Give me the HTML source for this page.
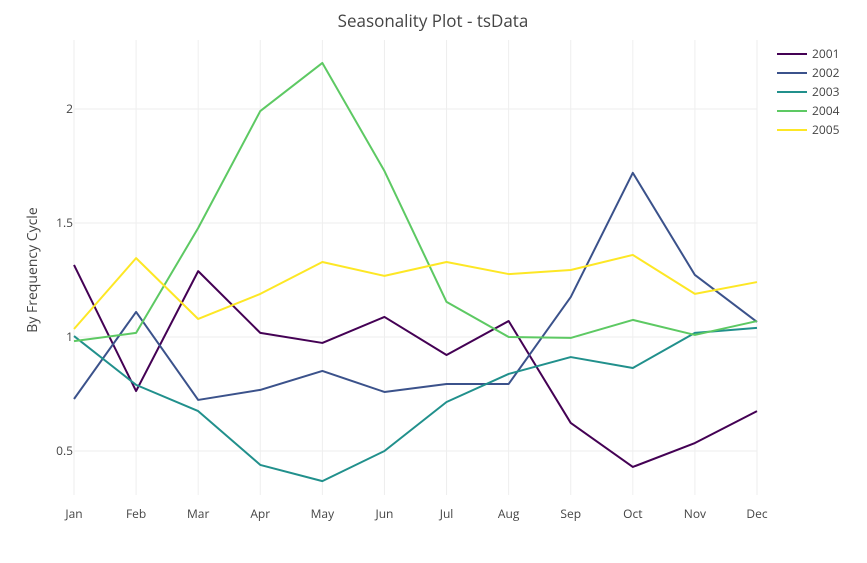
<!DOCTYPE html>
<html><head><meta charset="utf-8"><style>
body{margin:0;background:#fff;font-family:"Open Sans","Liberation Sans",sans-serif}
svg text{font-family:"Open Sans","Liberation Sans",sans-serif}
</style></head><body>
<svg id="chart" width="867" height="558">
<text x="433" y="27" text-anchor="middle" font-size="17" fill="#444">Seasonality Plot - tsData</text>
<text transform="translate(37,270) rotate(-90)" text-anchor="middle" font-size="14" fill="#444">By Frequency Cycle</text>
<g id="grid"></g><g id="lines"></g><g id="legend"></g>
</svg>
<script>
const months=["Jan","Feb","Mar","Apr","May","Jun","Jul","Aug","Sep","Oct","Nov","Dec"];
const years=["2001","2002","2003","2004","2005"];
const colors=["#440154","#3b528b","#21908c","#5dc963","#fde725"];
const yTicks=[0.5,1,1.5,2];
const yTickLabels=["0.5","1","1.5","2"];
const s2001=[1.316,0.763,1.289,1.018,0.974,1.088,0.921,1.07,0.623,0.43,0.535,0.675];
const s2002=[0.728,1.11,0.724,0.768,0.851,0.759,0.794,0.794,1.175,1.72,1.272,1.066];
const s2003=[1.004,0.79,0.675,0.439,0.368,0.5,0.715,0.838,0.912,0.864,1.018,1.04];
const s2004=[0.982,1.018,1.478,1.991,2.202,1.728,1.154,1.0,0.996,1.075,1.009,1.07];
const s2005=[1.035,1.346,1.079,1.189,1.329,1.268,1.329,1.276,1.294,1.36,1.189,1.241];
const series=[s2001,s2002,s2003,s2004,s2005];
const NS="http://www.w3.org/2000/svg";
const x=i=>74+i*(757-74)/11;
const y=v=>337-(v-1)*228;
function mk(t,a,p){const e=document.createElementNS(NS,t);for(const k in a)e.setAttribute(k,a[k]);p.appendChild(e);return e;}
const grid=document.getElementById('grid');
months.forEach((m,i)=>{
 const l=mk('line',{x1:x(i),x2:x(i),y1:40,y2:495,stroke:'#eee','stroke-width':1},grid);
 
 
 const t=mk('text',{x:x(i),y:518,'text-anchor':'middle','font-size':12,fill:'#444'},grid);t.textContent=m;
 
 
});
yTicks.forEach((v,i)=>{
 const l=mk('line',{x1:74,x2:757,y1:y(v),y2:y(v),stroke:'#eee','stroke-width':1},grid);
 
 
 const t=mk('text',{x:73,y:y(v)+4,'text-anchor':'end','font-size':12,fill:'#444'},grid);t.textContent=yTickLabels[i];
 
 
});
const lines=document.getElementById('lines'),leg=document.getElementById('legend');
series.forEach((s,k)=>{
 const p=mk('polyline',{points:s.map((v,i)=>x(i)+','+y(v)).join(' '),fill:'none',stroke:colors[k],'stroke-width':2,'stroke-linejoin':'round'},lines);
 
 
 const g=mk('g',{},leg);
 
 
 const ly=54+k*19;
 mk('line',{x1:777,x2:807,y1:ly,y2:ly,stroke:colors[k],'stroke-width':2},g);
 const t=mk('text',{x:812,y:ly+4,'font-size':12,fill:'#444'},g);t.textContent=years[k];
});
</script>
</body></html>
